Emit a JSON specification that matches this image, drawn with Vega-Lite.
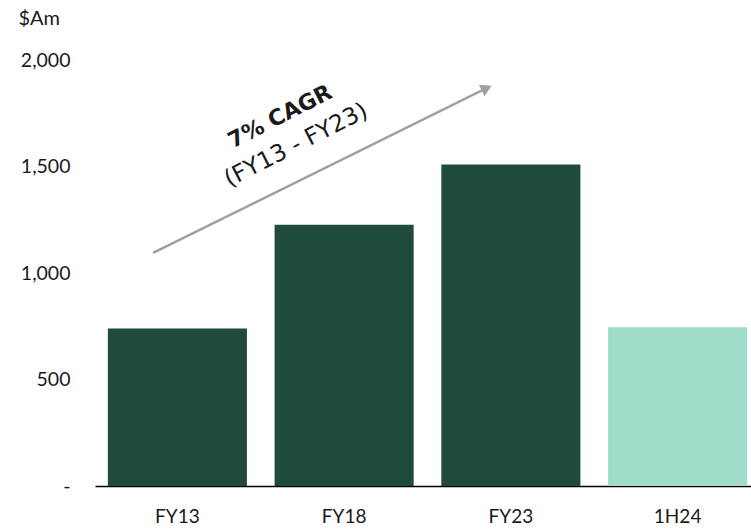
{
  "$schema": "https://vega.github.io/schema/vega-lite/v6.json",
  "autosize": {"type": "none"},
  "padding": {"left": 95, "top": 60, "right": 0, "bottom": 46},
  "width": 656,
  "height": 426,
  "background": "white",
  "config": {"view": {"stroke": null}, "font": "Lato"},
  "datasets": {
    "bars": [
      {"period": "FY13", "kind": "FY", "value": 740},
      {"period": "FY18", "kind": "FY", "value": 1226},
      {"period": "FY23", "kind": "FY", "value": 1509},
      {"period": "1H24", "kind": "1H", "value": 745}
    ],
    "arrow": [{"ax": 0.354, "ay": 1094, "bx": 2.378, "by": 1864}],
    "head": [{"ax": 2.388, "ay": 1868}],
    "lbl1": [{"ax": 1.128, "ay": 1735, "t": "7% CAGR"}],
    "lbl2": [{"ax": 1.226, "ay": 1600, "t": "(FY13 - FY23)"}]
  },
  "layer": [
    {
      "data": {"name": "bars"},
      "mark": {"type": "bar"},
      "encoding": {
        "x": {
          "field": "period", "type": "nominal", "sort": null,
          "scale": {"paddingInner": 0.166, "paddingOuter": 0.05, "align": 0.77},
          "axis": {"title": null, "labelAngle": 0, "ticks": false, "domainColor": "#000000", "domainWidth": 1.5,
                   "labelFontSize": 19, "labelColor": "#1a1a1a", "labelPadding": 21, "labelFont": "Lato"}
        },
        "y": {
          "field": "value", "type": "quantitative",
          "scale": {"domain": [0, 2000]},
          "axis": {"title": "$Am", "titleAngle": 0, "titleAlign": "left", "titleBaseline": "middle",
                   "titleX": -77, "titleY": -42, "titleFontWeight": "normal", "titleFontSize": 20, "titleColor": "#1a1a1a", "titleFont": "Lato",
                   "values": [0, 500, 1000, 1500, 2000], "grid": false, "domain": false, "ticks": false,
                   "labelPadding": 25, "labelFontSize": 19.5, "labelColor": "#1a1a1a", "labelFont": "Lato",
                   "labelExpr": "datum.value == 0 ? '-' : format(datum.value, ',')"}
        },
        "color": {"field": "kind", "type": "nominal", "scale": {"domain": ["FY", "1H"], "range": ["#1F4B3E", "#9FDCCA"]}, "legend": null}
      }
    },
    {
      "data": {"name": "arrow"},
      "mark": {"type": "rule", "color": "#a0a0a0", "strokeWidth": 2.5},
      "encoding": {
        "x": {"field": "ax", "type": "quantitative", "scale": {"domain": [0, 4]}, "axis": null},
        "y": {"field": "ay", "type": "quantitative"},
        "x2": {"field": "bx"},
        "y2": {"field": "by"}
      }
    },
    {
      "data": {"name": "head"},
      "mark": {"type": "point", "shape": "triangle-right", "filled": true, "color": "#a0a0a0", "opacity": 1, "size": 160, "angle": 333.7},
      "encoding": {
        "x": {"field": "ax", "type": "quantitative", "scale": {"domain": [0, 4]}, "axis": null},
        "y": {"field": "ay", "type": "quantitative"}
      }
    },
    {
      "data": {"name": "lbl1"},
      "mark": {"type": "text", "angle": 333, "fontSize": 22, "fontWeight": "bold", "color": "#1a1a1a", "font": "DejaVu Sans", "align": "center", "baseline": "middle"},
      "encoding": {
        "x": {"field": "ax", "type": "quantitative", "scale": {"domain": [0, 4]}, "axis": null},
        "y": {"field": "ay", "type": "quantitative"},
        "text": {"field": "t"}
      }
    },
    {
      "data": {"name": "lbl2"},
      "mark": {"type": "text", "angle": 333, "fontSize": 23.5, "color": "#1a1a1a", "font": "DejaVu Sans", "align": "center", "baseline": "middle"},
      "encoding": {
        "x": {"field": "ax", "type": "quantitative", "scale": {"domain": [0, 4]}, "axis": null},
        "y": {"field": "ay", "type": "quantitative"},
        "text": {"field": "t"}
      }
    }
  ],
  "resolve": {"scale": {"x": "independent"}}
}
